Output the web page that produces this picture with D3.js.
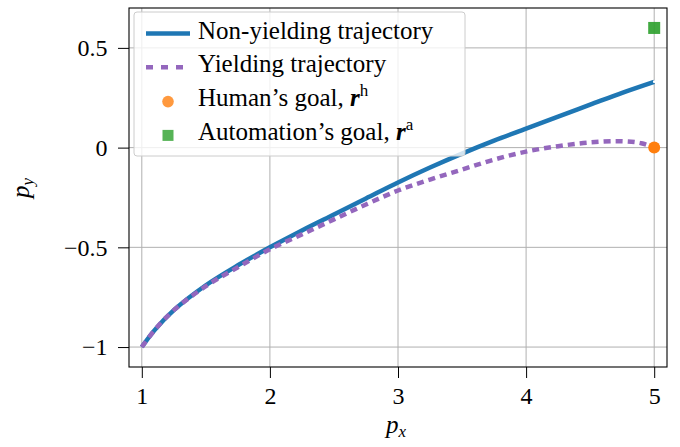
<!DOCTYPE html>
<html>
<head>
<meta charset="utf-8">
<script src="https://cdn.jsdelivr.net/npm/d3@7"></script>
<style>
  body { margin: 0; background: #fff; }
  svg text { font-family: "Liberation Serif", "Times New Roman", Times, "DejaVu Serif", serif; fill: #000; }
</style>
</head>
<body>
<div id="chart"></div>
<script>
// chart size
var svgWidth = 680;
var svgHeight = 447;
var margin = { top: 8, right: 13, bottom: 80, left: 129 };
var width = svgWidth - margin.left - margin.right;
var height = svgHeight - margin.top - margin.bottom;
var serif = "'Liberation Serif', 'Times New Roman', Times, 'DejaVu Serif', serif";

// data
var trajX = [1, 1.1, 1.25, 1.5, 1.75, 2, 2.25, 2.5, 2.75, 3, 3.25, 3.5, 3.75, 4, 4.25, 4.5, 4.75, 5];
var nonYieldingY = [-1, -0.915, -0.815, -0.69, -0.59, -0.5, -0.415, -0.335, -0.255, -0.175, -0.1, -0.03, 0.035, 0.095, 0.155, 0.215, 0.275, 0.33];
var yieldX = [1, 1.1, 1.25, 1.5, 1.75, 2, 2.25, 2.5, 2.75, 3, 3.25, 3.5, 3.75, 4, 4.25, 4.5, 4.75, 4.9, 5];
var yieldingY = [-1, -0.915, -0.815, -0.695, -0.6, -0.51, -0.435, -0.36, -0.285, -0.215, -0.16, -0.11, -0.06, -0.02, 0.007, 0.026, 0.032, 0.022, 0];
var humanGoal = [5, 0];
var autoGoal = [5, 0.6];
var xTicks = [1, 2, 3, 4, 5];
var yTicks = [-1, -0.5, 0, 0.5];
var legendLabels = ["Non-yielding trajectory", "Yielding trajectory", "Human\u2019s goal, ", "Automation\u2019s goal, "];

var colBlue = "#1f77b4", colPurple = "#9467bd", colOrange = "#ff7f0e", colGreen = "#2ca02c";

var svg = d3.select("#chart").append("svg")
  .attr("width", svgWidth)
  .attr("height", svgHeight)
  .attr("font-family", serif);

var chartGroup = svg.append("g")
  .attr("transform", `translate(${margin.left}, ${margin.top})`);

var xScale = d3.scaleLinear().domain([0.9, 5.1]).range([0, width]);
var yScale = d3.scaleLinear().domain([-1.1, 0.7]).range([height, 0]);

var fmt = d => (d < 0 ? "\u2212" : "") + Math.abs(d);

// grid
chartGroup.append("g").selectAll("line").data(xTicks).enter().append("line")
  .attr("x1", d => xScale(d)).attr("x2", d => xScale(d))
  .attr("y1", 0).attr("y2", height)
  .attr("stroke", "#b0b0b0").attr("stroke-width", 1);
chartGroup.append("g").selectAll("line").data(yTicks).enter().append("line")
  .attr("y1", d => yScale(d)).attr("y2", d => yScale(d))
  .attr("x1", 0).attr("x2", width)
  .attr("stroke", "#b0b0b0").attr("stroke-width", 1);

// lines
var line = d3.line().x(d => xScale(d[0])).y(d => yScale(d[1])).curve(d3.curveCatmullRom.alpha(0.5));

chartGroup.append("path")
  .datum(trajX.map((x, i) => [x, nonYieldingY[i]]))
  .attr("d", line)
  .attr("fill", "none").attr("stroke", colBlue).attr("stroke-width", 4.5);

chartGroup.append("path")
  .datum(yieldX.map((x, i) => [x, yieldingY[i]]))
  .attr("d", line)
  .attr("fill", "none").attr("stroke", colPurple).attr("stroke-width", 4.5)
  .attr("stroke-dasharray", "7,5");

// small end mark on the non-yielding line
chartGroup.append("circle")
  .attr("cx", xScale(trajX[trajX.length - 1]))
  .attr("cy", yScale(nonYieldingY[nonYieldingY.length - 1]))
  .attr("r", 1.3).attr("fill", "#fff");

// goals
chartGroup.append("circle")
  .attr("cx", xScale(humanGoal[0])).attr("cy", yScale(humanGoal[1]))
  .attr("r", 6).attr("fill", colOrange);
chartGroup.append("rect")
  .attr("x", xScale(autoGoal[0]) - 6).attr("y", yScale(autoGoal[1]) - 6)
  .attr("width", 12).attr("height", 12).attr("fill", colGreen).attr("opacity", 0.9);

// axes
var bottomAxis = d3.axisBottom(xScale).tickValues(xTicks).tickFormat(fmt).tickSize(11).tickPadding(9);
var leftAxis = d3.axisLeft(yScale).tickValues(yTicks).tickFormat(fmt).tickSize(11).tickPadding(10.5);

var gx = chartGroup.append("g").attr("transform", `translate(0, ${height})`).call(bottomAxis);
var gy = chartGroup.append("g").call(leftAxis);
[gx, gy].forEach(g => {
  g.attr("font-family", serif).attr("font-size", 24);
  g.select(".domain").remove();
  g.selectAll("line").attr("stroke", "#000").attr("stroke-width", 1);
  g.selectAll("text").attr("fill", "#000");
});

// frame
chartGroup.append("rect")
  .attr("x", 0).attr("y", 0).attr("width", width).attr("height", height)
  .attr("fill", "none").attr("stroke", "#000").attr("stroke-width", 1.1);

// axis labels
var xl = svg.append("text").attr("x", 396).attr("y", 433).attr("text-anchor", "middle").attr("font-size", 25);
xl.append("tspan").attr("font-style", "italic").text("p");
xl.append("tspan").attr("font-style", "italic").attr("font-size", 17).attr("dy", 4).text("x");

var yl = svg.append("text").attr("transform", "translate(29, 188) rotate(-90)").attr("text-anchor", "middle").attr("font-size", 25);
yl.append("tspan").attr("font-style", "italic").text("p");
yl.append("tspan").attr("font-style", "italic").attr("font-size", 17).attr("dy", 4).text("y");

// legend
var legend = svg.append("g");
legend.append("rect")
  .attr("x", 134).attr("y", 12).attr("width", 331).attr("height", 144).attr("rx", 3)
  .attr("fill", "#fff").attr("fill-opacity", 0.8).attr("stroke", "#cccccc").attr("stroke-width", 1);

var rowY = i => 38.5 + 33.8 * i;

legend.append("line").attr("x1", 146).attr("x2", 190).attr("y1", rowY(0) - 5).attr("y2", rowY(0) - 5)
  .attr("stroke", colBlue).attr("stroke-width", 4.5);
legend.append("line").attr("x1", 146).attr("x2", 190).attr("y1", rowY(1) - 5).attr("y2", rowY(1) - 5)
  .attr("stroke", colPurple).attr("stroke-width", 4.5).attr("stroke-dasharray", "7,8");
legend.append("circle").attr("cx", 168).attr("cy", rowY(2) - 4.5).attr("r", 5.8)
  .attr("fill", colOrange).attr("opacity", 0.8);
legend.append("rect").attr("x", 162.5).attr("y", rowY(3) - 10).attr("width", 11).attr("height", 11)
  .attr("fill", colGreen).attr("opacity", 0.8);

legendLabels.forEach((lab, i) => {
  var t = legend.append("text").attr("x", 198).attr("y", rowY(i)).attr("font-size", 25);
  t.append("tspan").text(lab);
  if (i >= 2) {
    t.append("tspan").attr("font-weight", "bold").attr("font-style", "italic").text("r");
    t.append("tspan").attr("font-size", 17).attr("dy", -10).text(i === 2 ? "h" : "a");
  }
});
</script>
</body>
</html>
